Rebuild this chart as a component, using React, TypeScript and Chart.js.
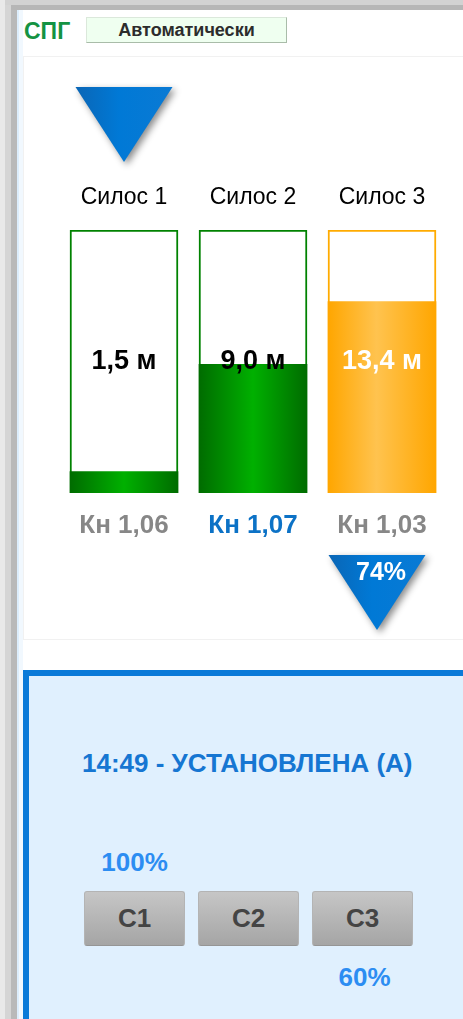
import React, { useEffect, useRef } from "react";
import { Chart, registerables } from "chart.js";

Chart.register(...registerables);

// ---- data ----
const siloLabels = ["Силос 1", "Силос 2", "Силос 3"];
const levels = [1.5, 9.0, 13.4]; // metres
const capacity = [18.4, 18.4, 18.4]; // metres (full height)
const knValues = [1.06, 1.07, 1.03];
const activeSilo = [false, true, false];
const warnSilo = [false, false, true];
const inflowSilo = 0;
const outflowSilo = 2;
const outflowPct = 74;
const statusTime = "14:49";
const statusText = "УСТАНОВЛЕНА (А)";
const buttonLabels = ["С1", "С2", "С3"];
const buttonPctTop = [100, null, null];
const buttonPctBottom = [null, null, 60];

const FONT = '"Liberation Sans", Arial, sans-serif';

const fmt = (v: number, d: number) => v.toFixed(d).replace(".", ",");

function barGradient(chart: any, idx: number, warn: boolean) {
  const fallback = warn ? "#ffb020" : "#009000";
  const xs = chart.scales && chart.scales.x;
  if (!xs) return fallback;
  const cx = xs.getPixelForValue(idx);
  if (!Number.isFinite(cx)) return fallback;
  const g = chart.ctx.createLinearGradient(cx - 54, 0, cx + 54, 0);
  if (warn) {
    g.addColorStop(0, "#ffa600");
    g.addColorStop(0.45, "#ffc34f");
    g.addColorStop(1, "#ffa600");
  } else {
    g.addColorStop(0, "#006c00");
    g.addColorStop(0.5, "#00b000");
    g.addColorStop(1, "#006c00");
  }
  return g;
}

function drawTri(ctx: CanvasRenderingContext2D, cx: number, yTop: number, yApex: number, halfW: number) {
  ctx.save();
  ctx.shadowColor = "rgba(0,0,0,0.45)";
  ctx.shadowBlur = 7;
  ctx.shadowOffsetX = 3;
  ctx.shadowOffsetY = 3;
  const g = ctx.createLinearGradient(cx - halfW, 0, cx + halfW, 0);
  g.addColorStop(0, "#0a66b6");
  g.addColorStop(0.45, "#0079d6");
  g.addColorStop(1, "#0a7ad4");
  ctx.fillStyle = g;
  ctx.beginPath();
  ctx.moveTo(cx - halfW, yTop);
  ctx.lineTo(cx + halfW, yTop);
  ctx.lineTo(cx, yApex);
  ctx.closePath();
  ctx.fill();
  ctx.restore();
}

const siloPlugin = {
  id: "siloDecor",
  afterDatasetsDraw(chart: any) {
    const { ctx, chartArea, scales } = chart;
    const xs = scales.x;
    const ys = scales.y;
    ctx.save();
    for (let i = 0; i < levels.length; i++) {
      const cx = xs.getPixelForValue(i);
      const cy = (ys.getPixelForValue(capacity[i]) + ys.getPixelForValue(0)) / 2;
      ctx.font = `bold 27px ${FONT}`;
      ctx.textAlign = "center";
      ctx.textBaseline = "middle";
      ctx.fillStyle = warnSilo[i] ? "#ffffff" : "#000000";
      ctx.fillText(`${fmt(levels[i], 1)} м`, cx, cy);
      ctx.font = `bold 26px ${FONT}`;
      ctx.fillStyle = activeSilo[i] ? "#0c72c6" : "#878787";
      ctx.fillText(`Кн ${fmt(knValues[i], 2)}`, cx, chartArea.bottom + 33);
    }
    const cIn = xs.getPixelForValue(inflowSilo);
    drawTri(ctx, cIn, chartArea.top - 143, chartArea.top - 68, 48.5);
    const cOut = xs.getPixelForValue(outflowSilo) - 5;
    drawTri(ctx, cOut, chartArea.bottom + 62, chartArea.bottom + 137, 48.5);
    ctx.font = `bold 25px ${FONT}`;
    ctx.fillStyle = "#ffffff";
    ctx.textAlign = "center";
    ctx.textBaseline = "middle";
    ctx.fillText(`${outflowPct}%`, cOut + 4, chartArea.bottom + 80);
    ctx.restore();
  },
};

function SiloChart() {
  const ref = useRef<HTMLCanvasElement | null>(null);
  useEffect(() => {
    if (!ref.current) return;
    const chart = new Chart(ref.current, {
      type: "bar",
      data: {
        labels: siloLabels,
        datasets: [
          {
            label: "level",
            data: levels,
            backgroundColor: (c: any) => barGradient(c.chart, c.dataIndex ?? 0, warnSilo[c.dataIndex ?? 0]),
            borderWidth: 0,
            barThickness: 108,
            grouped: false,
          } as any,
          {
            label: "capacity",
            data: capacity,
            backgroundColor: "#ffffff",
            borderColor: warnSilo.map((w) => (w ? "#ffab00" : "#008200")),
            borderWidth: 2,
            borderSkipped: false,
            barThickness: 108,
            grouped: false,
          } as any,
        ],
      },
      options: {
        responsive: false,
        animation: false,
        events: [],
        layout: { padding: { left: 59.5, right: 16.5, top: 104.4, bottom: 147 } },
        plugins: { legend: { display: false }, tooltip: { enabled: false } },
        scales: {
          x: {
            position: "top",
            grid: { display: false, drawTicks: false },
            border: { display: false },
            ticks: { color: "#000", font: { family: FONT, size: 23 }, padding: 19 },
          },
          y: {
            display: false,
            min: 0,
            max: 18.4,
          },
        },
      } as any,
      plugins: [siloPlugin],
    });
    return () => chart.destroy();
  }, []);
  return <canvas ref={ref} width={463} height={580} style={{ position: "absolute", left: 0, top: 60, width: 463, height: 580 }} />;
}

export default function App() {
  const btnLefts = [84, 198, 312];
  return (
    <div style={{ position: "fixed", left: 0, top: 0, width: 463, height: 1019, overflow: "hidden", background: "#fff", fontFamily: FONT }}>
      <div style={{ position: "absolute", left: 0, top: 0, width: 463, height: 5, background: "#d2d2d2" }} />
      <div style={{ position: "absolute", left: 0, top: 5, width: 463, height: 5, background: "#b6b6b6" }} />
      <div style={{ position: "absolute", left: 0, top: 0, width: 5, height: 1019, background: "#e9e9e9" }} />
      <div style={{ position: "absolute", left: 5, top: 5, width: 6, height: 1014, background: "#d5d5d5" }} />
      <div style={{ position: "absolute", left: 11, top: 10, width: 6, height: 1009, background: "#b9b9b9" }} />
      <div style={{ position: "absolute", left: 17, top: 10, width: 2, height: 1009, background: "#dcedfc" }} />
      <div style={{ position: "absolute", left: 19, top: 10, width: 4, height: 1009, background: "#f1f8fe" }} />
      <div style={{ position: "absolute", left: 23, top: 56, width: 450, height: 584, border: "1px solid #f1f1f1", boxSizing: "border-box" }} />
      <div style={{ position: "absolute", left: 24, top: 18, fontWeight: "bold", fontSize: 23, lineHeight: "26px", color: "#149343" }}>СПГ</div>
      <div
        style={{
          position: "absolute",
          left: 86,
          top: 17,
          width: 201,
          height: 26,
          boxSizing: "border-box",
          background: "#effff0",
          border: "1px solid #dbe8db",
          borderRightColor: "#a9bca9",
          borderBottomColor: "#a9bca9",
          textAlign: "center",
          fontWeight: "bold",
          fontSize: 18,
          lineHeight: "24px",
          color: "#2c2c2c",
        }}
      >
        Автоматически
      </div>
      <SiloChart />
      <div style={{ position: "absolute", left: 23, top: 670, width: 460, height: 400, boxSizing: "border-box", border: "6px solid #0a7ad8", background: "#e0f0fe" }} />
      <div style={{ position: "absolute", left: 82, top: 748, fontWeight: "bold", fontSize: 26, lineHeight: "30px", color: "#1676d2", whiteSpace: "nowrap" }}>
        {statusTime} - {statusText}
      </div>
      {buttonLabels.map((b, i) => (
        <React.Fragment key={b}>
          {buttonPctTop[i] != null && (
            <div style={{ position: "absolute", left: btnLefts[i], width: 101, top: 847, textAlign: "center", fontWeight: "bold", fontSize: 26, lineHeight: "30px", color: "#2c8df2" }}>
              {buttonPctTop[i]}%
            </div>
          )}
          <div
            style={{
              position: "absolute",
              left: btnLefts[i],
              top: 891,
              width: 101,
              height: 55,
              boxSizing: "border-box",
              borderRadius: 3,
              border: "1px solid #b4b4b4",
              borderBottomColor: "#959595",
              background: "linear-gradient(#c6c6c6, #a5a5a5)",
              textAlign: "center",
              fontWeight: "bold",
              fontSize: 26,
              lineHeight: "53px",
              color: "#444",
            }}
          >
            {b}
          </div>
          {buttonPctBottom[i] != null && (
            <div style={{ position: "absolute", left: btnLefts[i] + 2, width: 101, top: 962, textAlign: "center", fontWeight: "bold", fontSize: 26, lineHeight: "30px", color: "#2c8df2" }}>
              {buttonPctBottom[i]}%
            </div>
          )}
        </React.Fragment>
      ))}
    </div>
  );
}
